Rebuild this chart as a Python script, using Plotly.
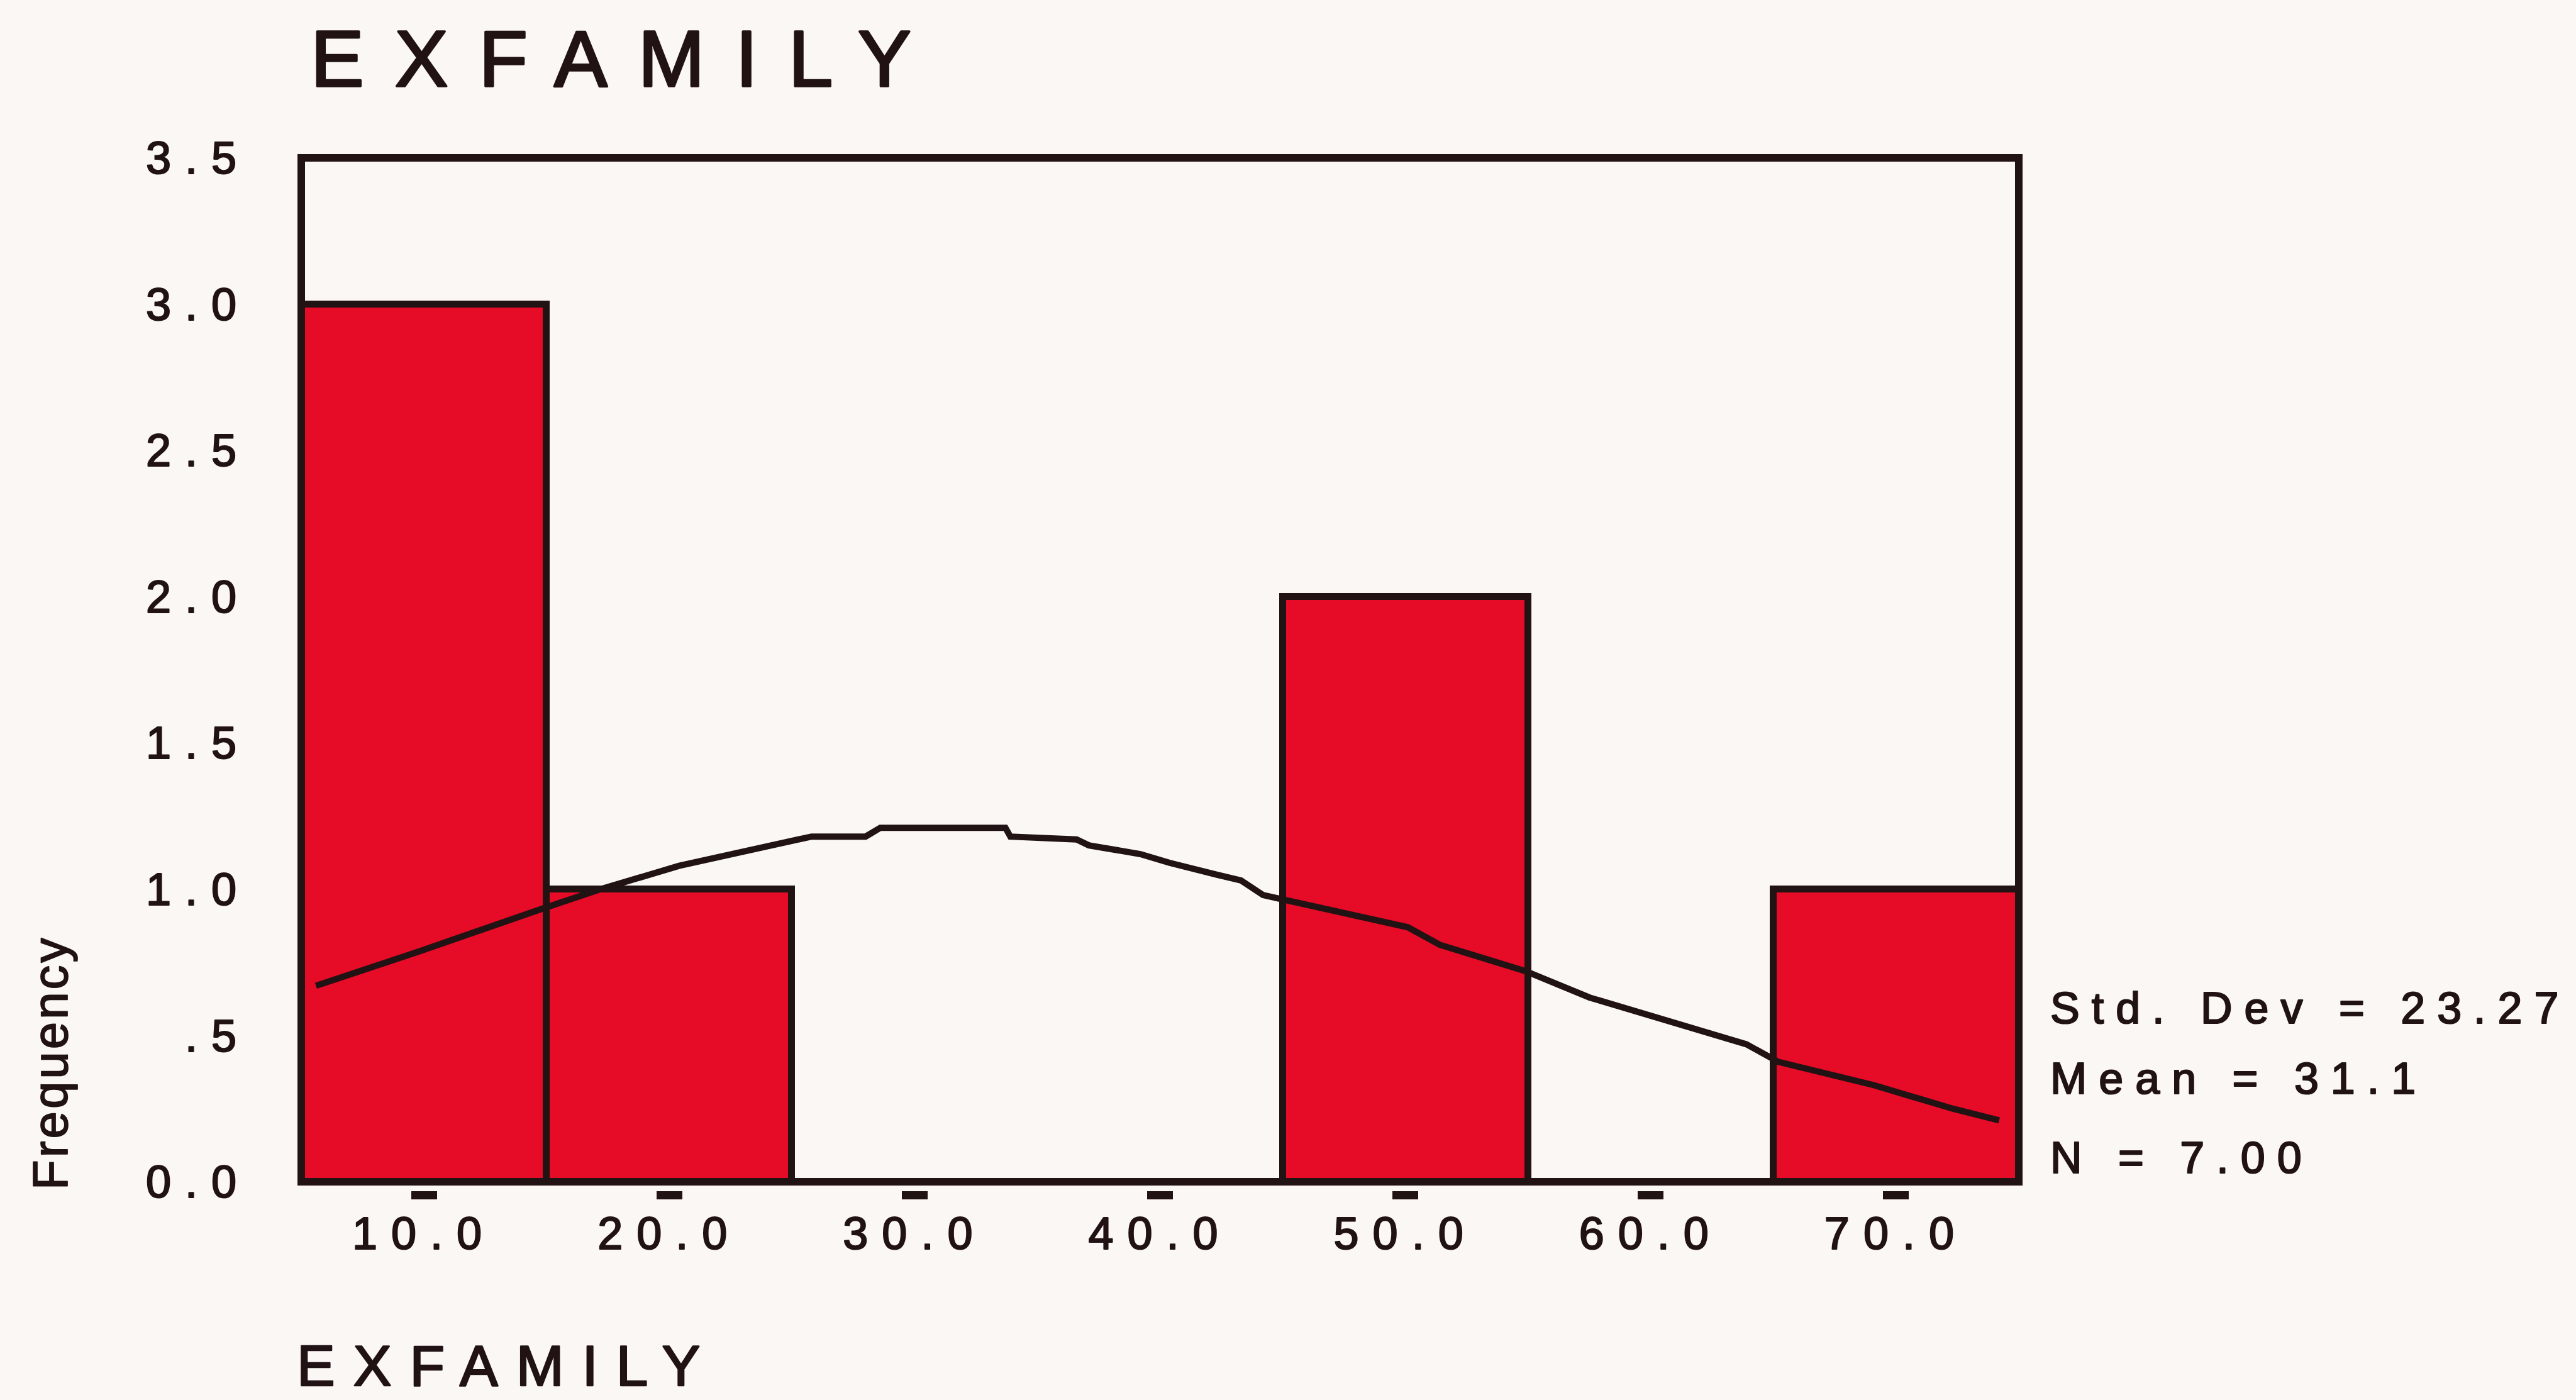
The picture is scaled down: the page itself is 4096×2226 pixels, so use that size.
import plotly.graph_objects as go

# Histogram bins (bin width 10) and their counts
bin_centers = [10, 20, 30, 40, 50, 60, 70]
frequency = [3, 1, 0, 0, 2, 0, 1]
bin_width = 10

# Fitted normal curve, as traced
curve_x = [5.6, 9.9, 14.7, 17.2, 20.4, 25.8, 28.0, 28.6, 33.7, 33.9, 36.6, 37.1,
           39.2, 40.4, 42.3, 43.3, 44.2, 50.1, 51.4, 54.9, 57.5, 60.4, 63.9,
           65.2, 69.1, 72.3, 74.2]
curve_y = [0.67, 0.79, 0.93, 1.00, 1.08, 1.18, 1.18, 1.21, 1.21, 1.18, 1.17, 1.15,
           1.12, 1.09, 1.05, 1.03, 0.98, 0.87, 0.81, 0.72, 0.63, 0.56, 0.47,
           0.41, 0.33, 0.25, 0.21]

x_tickvals = [10, 20, 30, 40, 50, 60, 70]
x_ticktext = ["10.0", "20.0", "30.0", "40.0", "50.0", "60.0", "70.0"]
y_tickvals = [0, 0.5, 1.0, 1.5, 2.0, 2.5, 3.0, 3.5]
y_ticktext = ["0.0", ".5", "1.0", "1.5", "2.0", "2.5", "3.0", "3.5"]

stats_lines = ["Std. Dev = 23.27", "Mean = 31.1", "N = 7.00"]
chart_title = "EXFAMILY"
x_title = "EXFAMILY"
y_title = "Frequency"

BG = "#FAF7F4"
INK = "#211214"
RED = "#E60B26"
FONT = "Liberation Sans, Arial, Helvetica, sans-serif"

W, H = 4096, 2226
ML, MR, MT, MB = 479, 886, 251, 333
PW = W - ML - MR
PH = H - MT - MB
GAP = 14  # space between frame and the tick dashes


def px_x(x):
    return (x - ML) / PW


def px_y(y):
    return (H - MB - y) / PH


fig = go.Figure()

fig.add_trace(go.Bar(
    x=bin_centers, y=frequency, width=bin_width,
    marker=dict(color=RED, line=dict(color=INK, width=11)),
    hoverinfo="skip",
))

fig.add_trace(go.Scatter(
    x=curve_x, y=curve_y, mode="lines",
    line=dict(color=INK, width=10),
    hoverinfo="skip",
))

annotations = [
    dict(text=chart_title, x=px_x(492), y=px_y(93), xanchor="left", yanchor="middle",
         align="left", font=dict(size=127, color=INK, family=FONT)),
    dict(text=x_title, x=px_x(470), y=px_y(2171), xanchor="left", yanchor="middle",
         align="left", font=dict(size=91, color=INK, family=FONT)),
    dict(text=y_title, x=px_x(80), y=px_y(1690), xanchor="center", yanchor="middle",
         textangle=-90, font=dict(size=78, color=INK, family=FONT)),
]
for txt, yc in zip(stats_lines, [1603, 1715, 1841]):
    annotations.append(dict(text=txt, x=px_x(3258), y=px_y(yc), xanchor="left",
                            yanchor="middle", align="left",
                            font=dict(size=70, color=INK, family=FONT)))
for a in annotations:
    a.update(xref="paper", yref="paper", showarrow=False)

fig.update_layout(
    width=W, height=H, autosize=False,
    margin=dict(l=ML, r=MR, t=MT, b=MB, pad=0),
    paper_bgcolor=BG, plot_bgcolor=BG,
    showlegend=False, bargap=0,
    xaxis=dict(range=[5, 75], anchor="free", position=0,
               tickvals=x_tickvals, ticktext=x_ticktext,
               ticks="outside", ticklen=13, tickwidth=41, tickcolor=INK,
               ticklabelstandoff=-7,
               tickfont=dict(size=72, color=INK, family=FONT),
               showgrid=False, zeroline=False, showline=False, fixedrange=True),
    yaxis=dict(range=[0, 3.5], domain=[GAP / PH, 1],
               tickvals=y_tickvals, ticktext=y_ticktext, ticks="",
               ticklabelstandoff=80,
               tickfont=dict(size=72, color=INK, family=FONT),
               showgrid=False, zeroline=False, showline=False, fixedrange=True),
    shapes=[dict(type="rect", xref="x domain", yref="y domain", x0=0, x1=1, y0=0, y1=1,
                 line=dict(color=INK, width=12), fillcolor="rgba(0,0,0,0)", layer="above")],
    annotations=annotations,
)

# Wide, heavy SPSS-style lettering
css = (
    ".main-svg text{stroke:" + INK + ";stroke-linejoin:round}"
    ".xaxislayer-above text, .yaxislayer-above text{letter-spacing:22px;stroke-width:2.2px}"
    "g.annotation[data-index='0'] text{letter-spacing:49px;stroke-width:3.5px}"
    "g.annotation[data-index='1'] text{letter-spacing:29px;stroke-width:2.6px}"
    "g.annotation[data-index='2'] text{letter-spacing:4px;stroke-width:1.8px}"
    "g.annotation[data-index='3'] text, g.annotation[data-index='4'] text,"
    " g.annotation[data-index='5'] text{letter-spacing:19px;stroke-width:2.2px}"
)
post = ("(function(){var s=document.createElement('style');s.textContent=\"" + css +
        "\";document.head.appendChild(s);})();")

fig.write_html("out.html", config={"displayModeBar": False}, post_script=post)
